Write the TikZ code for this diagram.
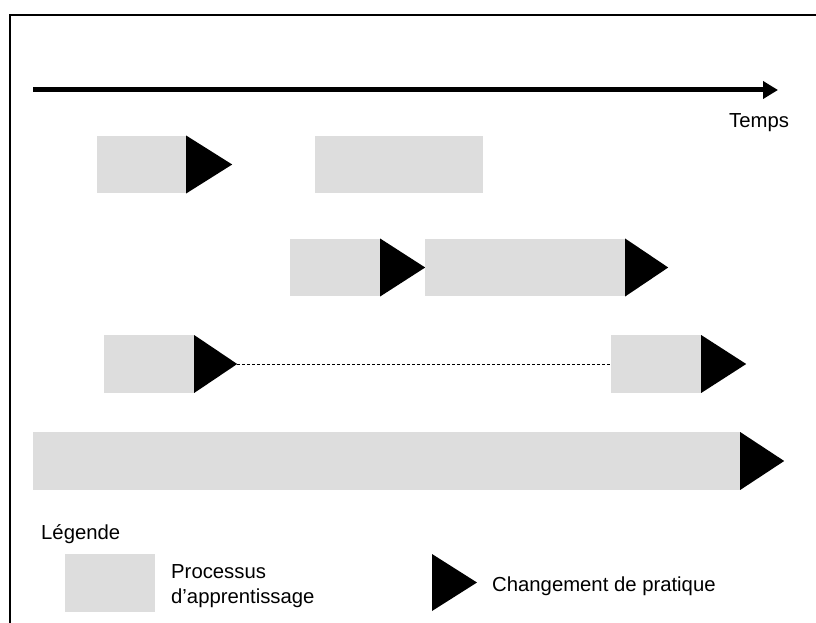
\documentclass[tikz,border=0pt]{standalone}
\usepackage{fontspec}
\setmainfont{Liberation Sans}
\usetikzlibrary{arrows.meta,calc}
\definecolor{boxgray}{RGB}{221,221,221}
\newcommand\chgtri[3]{\fill[black] (#1.north east) -- (#1.south east) -- ($(#1.east)+(#2,0)$) coordinate (#3) -- cycle;}
\begin{document}
\begin{tikzpicture}[x=1pt,y=-1pt,
  proc/.style={rectangle,fill=boxgray,draw=none,inner sep=0pt,minimum height=57.5pt},
  lbl/.style={inner sep=0pt,font=\fontsize{20.3}{25}\selectfont,align=left},
  frameline/.style={line width=2pt,line cap=rect},
  axisline/.style={line width=5pt,-{Triangle[length=15pt,width=17pt]}},
  dotline/.style={line width=0.8pt,dash pattern=on 3pt off 2pt}]
\useasboundingbox (0,0) rectangle (816,623);
% frame
\coordinate (fbl) at (10,623);
\coordinate (ftl) at (10,15);
\coordinate (ftr) at (816,15);
\draw[frameline] (fbl) -- (ftl) -- (ftr);
% time axis
\coordinate (ax0) at (33,90);
\coordinate (ax1) at (778,90);
\draw[axisline] (ax0) -- (ax1);
\node[lbl,anchor=base west] (temps) at (729,128) {Temps};
% row 1
\node[proc,minimum width=89pt] (b1a) at (141.5,164.5) {};
\chgtri{b1a}{46}{t1a}
\node[proc,minimum width=168pt] (b1b) at (399,164.5) {};
% row 2
\node[proc,minimum width=90pt] (b2a) at (335,267.5) {};
\chgtri{b2a}{45}{t2a}
\node[proc,minimum width=200pt] (b2b) at (525,267.5) {};
\chgtri{b2b}{43}{t2b}
% row 3
\node[proc,minimum width=90pt] (b3a) at (149,364) {};
\chgtri{b3a}{43}{t3a}
\node[proc,minimum width=90pt] (b3b) at (656,364) {};
\chgtri{b3b}{45}{t3b}
\draw[dotline] (t3a) -- (b3b.west);
% row 4
\node[proc,minimum width=707pt] (b4) at (386.5,461) {};
\chgtri{b4}{44}{t4}
% legend
\node[lbl,anchor=base west] (leg) at (41,539) {Légende};
\node[proc,minimum width=90pt] (lbox) at (110,583) {};
\node[lbl,anchor=base west] (lproc) at (171,603) {Processus\\d’apprentissage};
\coordinate (lt1) at (432,554);
\coordinate (lt2) at (432,611);
\coordinate (lt3) at (477,582.5);
\fill[black] (lt1) -- (lt2) -- (lt3) -- cycle;
\node[lbl,anchor=base west] (lchg) at (492,591) {Changement de pratique};
\end{tikzpicture}
\end{document}
